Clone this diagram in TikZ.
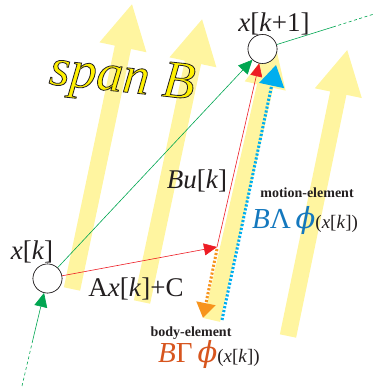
\documentclass[tikz,border=0pt]{standalone}
\usepackage{fontspec}
\setmainfont{Liberation Serif}
\newfontfamily\phifont{DejaVu Serif}
\usetikzlibrary{arrows.meta,calc}
\definecolor{spanyellow}{RGB}{255,245,160}
\definecolor{ink}{RGB}{35,31,32}
\definecolor{lgreen}{RGB}{0,166,81}
\definecolor{lred}{RGB}{237,28,36}
\definecolor{lorange}{RGB}{247,148,29}
\definecolor{lblue}{RGB}{0,174,239}
\definecolor{motionblue}{RGB}{20,120,190}
\definecolor{bodyorange}{RGB}{215,85,30}
\definecolor{spantext}{RGB}{255,240,0}
% #1 bottom point, #2 rotation, #3 length, #4 head half width
\newcommand{\spanarrow}[4]{%
  \fill[spanyellow, shift={#1}, rotate=#2]
    (-8.3,0) -- (8.3,0) -- (8.3,{-#3+44}) -- (#4,{-#3+44}) -- (0,-#3)
    -- (-#4,{-#3+44}) -- (-8.3,{-#3+44}) -- cycle;}
\newcommand{\outlinetxt}[1]{\special{pdf:code 0.137 0.122 0.125 RG 0.8 w 2 Tr}#1\special{pdf:code 0 Tr}}
\newcommand{\myphi}{{\phifont\itshape ϕ}}
\begin{document}
\begin{tikzpicture}[x=1pt,y=-1pt,
  state/.style={circle, draw=ink, line width=0.6pt, fill=white, minimum size=29pt, inner sep=0pt},
  lbl/.style={text=ink, inner sep=0pt, font=\fontsize{27}{30}\selectfont},
  smalllbl/.style={text=ink, inner sep=0pt, font=\fontsize{14}{16}\selectfont\bfseries},
  greenline/.style={draw=lgreen, line width=0.6pt},
  redline/.style={draw=lred, line width=0.6pt, -{Triangle[length=13pt,width=12pt]}},
  greentip/.style={-{Triangle[length=14pt,width=13pt]}},
  orangedots/.style={draw=lorange, line width=3pt, dash pattern=on 2.2pt off 1.8pt, -{Triangle[length=15pt,width=19pt]}},
  bluedots/.style={draw=lblue, line width=3pt, dash pattern=on 2.2pt off 1.8pt, -{Triangle[length=21pt,width=25pt]}},
  spanlbl/.style={inner sep=0pt, rotate=-6, font=\fontsize{53}{56}\selectfont\itshape}
]
\useasboundingbox (0,0) rectangle (374,387);

% span B yellow arrows
\spanarrow{(72,289)}{-11.9}{291}{24}
\spanarrow{(142,302)}{-12}{289}{24}
\spanarrow{(212,320)}{-12.8}{284}{21}
\spanarrow{(288,336)}{-11.7}{292}{24}

% span B label, yellow with dark outline
\node[spanlbl, text=spantext] (span) at (122,80) {\outlinetxt{span B}};

% states
\node[state] (xk) at (47.5,278.5) {};
\node[state] (xk1) at (262.5,49) {};

% coordinates
\coordinate (gin) at (22,386);
\coordinate (gmid) at (32.8,340);
\coordinate (gout) at (374,14);
\coordinate (gmid2) at (333,27);
\coordinate (p) at (217,247);
\coordinate (ostart) at (217,249);
\coordinate (oend) at (203,318);
\coordinate (bstart) at (222,320);
\coordinate (bend) at (276,65);

% green connectors
\draw[greenline, dash pattern=on 3pt off 2.5pt] (gin) -- (gmid);
\draw[greenline, greentip] (gmid) -- (xk);
\draw[greenline, greentip] (xk) -- (xk1);
\draw[greenline] (xk1) -- (gmid2);
\draw[greenline, dash pattern=on 3pt off 2.5pt] (gmid2) -- (gout);

% red connectors
\draw[redline] (xk) -- (p);
\draw[redline] (p) -- (xk1);

% dotted
\draw[orangedots] (ostart) -- (oend);
\draw[bluedots] (bstart) -- (bend);

% redraw circles on top
\node[state] at (xk) {};
\node[state] at (xk1) {};

% labels
\node[lbl] (lxk1) at (274,24) {\textit{x}[\textit{k}+1]};
\node[lbl] (lxk) at (32,252) {\textit{x}[\textit{k}]};
\node[lbl] (lbu) at (197,181) {\textit{Bu}[\textit{k}]};
\node[lbl] (lax) at (136,289) {A\textit{x}[\textit{k}]+C};
\node[smalllbl] (lmot) at (307,193) {motion-element};
\node[inner sep=0pt, anchor=base] (fmot) at (305,228)
  {\fontsize{29}{30}\selectfont\color{motionblue}\textit{B}Λ\,\myphi\color{ink}\fontsize{19}{22}\selectfont(\textit{x}[\textit{k}])};
\node[smalllbl] (lbody) at (191,333) {body-element};
\node[inner sep=0pt, anchor=base] (fbody) at (209,362)
  {\fontsize{29}{30}\selectfont\color{bodyorange}\textit{B}Γ\,\myphi\color{ink}\fontsize{19}{22}\selectfont(\textit{x}[\textit{k}])};
\end{tikzpicture}
\end{document}
